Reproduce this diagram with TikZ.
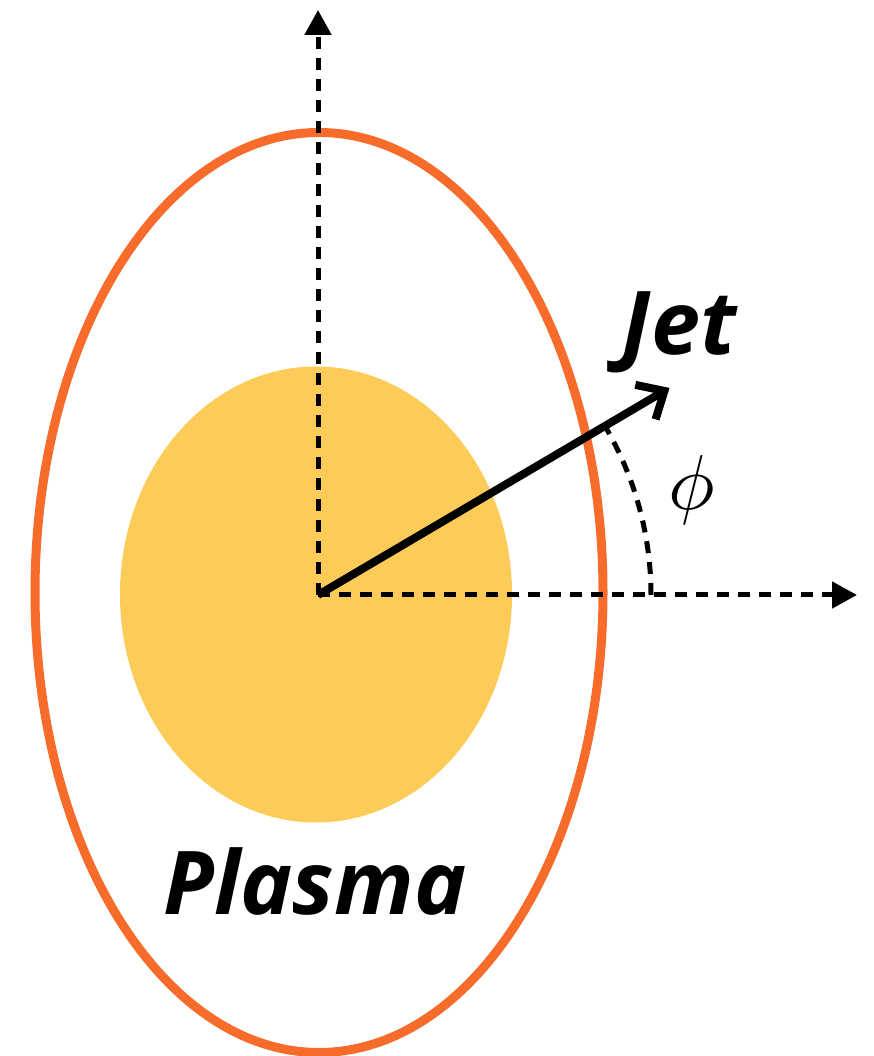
\documentclass[tikz,border=0pt]{standalone}
\usepackage{fontspec}
\usepackage{amsmath}
\usetikzlibrary{arrows.meta,calc}
\newfontfamily\labelfont{Open Sans}
\definecolor{plasmaorange}{HTML}{F76B2B}
\definecolor{coreyellow}{HTML}{FCCB58}
\tikzset{
  axis/.style={black, line width=5pt, dash pattern=on 12pt off 9pt,
    -{Triangle[length=25pt,width=26pt]}},
  jetarrow/.style={black, line width=8pt,
    -{Straight Barb[length=22pt,width=40pt,line width=8pt]}},
  bigtext/.style={font=\labelfont\bfseries\itshape\fontsize{88}{88}\selectfont, anchor=base},
}

\begin{document}
\begin{tikzpicture}[x=1pt, y=1pt]
  \useasboundingbox (0,0) rectangle (873,1056);
  \coordinate (O)  at (318,461);
  \coordinate (Y)  at (318,1046);
  \coordinate (X)  at (857,461);
  \coordinate (J)  at ($(O)+(30.5:408)$);

  % Nucleo giallo
  \fill[coreyellow] (316,461.5) ellipse[x radius=196, y radius=228];

  % Bordo del plasma
  \draw[plasmaorange, line width=9pt] (319,463.5) ellipse[x radius=284, y radius=460];

  % Assi tratteggiati
  \draw[axis] (O) -- (Y);
  \draw[axis] (O) -- (X);

  % Angolo phi
  \draw[black, line width=5pt, dash pattern=on 12pt off 9pt]
        ($(O)+(333,0)$) arc[start angle=0, end angle=30.5, radius=333];

  % Direzione del jet
  \draw[jetarrow] (O) -- (J);

  % Etichette
  \node[bigtext] (jet) at (679,701) {Jet};
  \node[scale=7.8, inner sep=0pt] (phi) at (692,566) {$\phi$};
  \node[bigtext] (plasma) at (315,141) {Plasma};
\end{tikzpicture}
\end{document}
